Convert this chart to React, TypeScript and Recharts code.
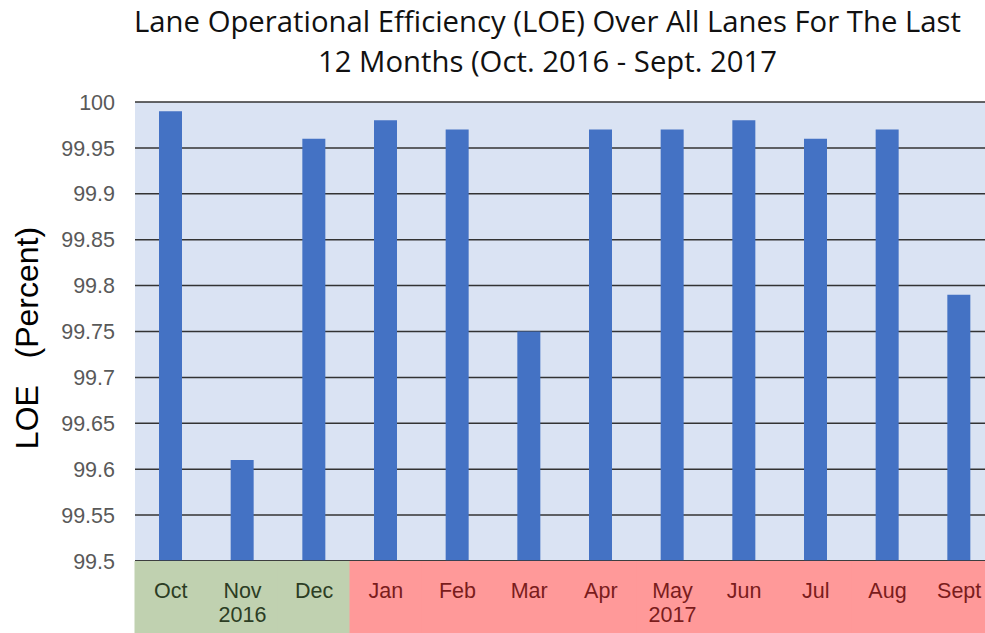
import { BarChart, Bar, XAxis, YAxis, CartesianGrid } from 'recharts'

const months = ['Oct', 'Nov', 'Dec', 'Jan', 'Feb', 'Mar', 'Apr', 'May', 'Jun', 'Jul', 'Aug', 'Sept']
const loe = [99.99, 99.61, 99.96, 99.98, 99.97, 99.75, 99.97, 99.97, 99.98, 99.96, 99.97, 99.79]
const yearUnder: Record<string, string> = { Nov: '2016', May: '2017' }
const yTicks = [99.5, 99.55, 99.6, 99.65, 99.7, 99.75, 99.8, 99.85, 99.9, 99.95, 100]
const year2016 = ['Oct', 'Nov', 'Dec']

const data = months.map((m, i) => ({ month: m, loe: loe[i] }))
const arial = "'Liberation Sans', Arial, sans-serif"

function MonthTick(props: any) {
  const { x, y, payload, width, visibleTicksCount } = props
  const bw = width / visibleTicksCount
  const green = year2016.includes(payload.value)
  const color = green ? '#2c3d24' : '#7a1c1c'
  return (
    <g>
      <rect x={x - bw / 2 - 0.5} y={y} width={bw + 1} height={72} fill={green ? '#c0d1b0' : '#ff9999'} />
      <text x={x} y={y + 37} textAnchor="middle" fontSize={21.5} fill={color} fontFamily={arial}>
        {payload.value}
      </text>
      {yearUnder[payload.value] && (
        <text x={x} y={y + 61} textAnchor="middle" fontSize={21.5} fill={color} fontFamily={arial}>
          {yearUnder[payload.value]}
        </text>
      )}
    </g>
  )
}

function YLabel() {
  return (
    <text transform="translate(38, 338) rotate(-90)" textAnchor="middle" fontSize={32} fill="#000"
      fontFamily={arial} style={{ whiteSpace: 'pre' }}>
      {'LOE   (Percent)'}
    </text>
  )
}

export default function App() {
  return (
    <div style={{ position: 'absolute', left: 0, top: 0, width: 985, height: 633, background: '#fff', overflow: 'hidden' }}>
      <div style={{
        position: 'absolute', left: 0, top: 1, width: 1095, textAlign: 'center',
        fontFamily: "'Open Sans', sans-serif", fontSize: 29.3, lineHeight: '40px', color: '#111'
      }}>
        Lane Operational Efficiency (LOE) Over All Lanes For The Last
        <br />
        12 Months (Oct. 2016 - Sept. 2017
      </div>
      <BarChart width={995} height={633} data={data} margin={{ top: 102, right: 0, left: 0, bottom: 0 }}>
        <CartesianGrid vertical={false} fill="#dae3f3" stroke="#333" strokeWidth={1.5} />
        <XAxis dataKey="month" height={72} tickLine={false} axisLine={{ stroke: '#333', strokeWidth: 1.5 }}
          tick={<MonthTick />} interval={0} tickSize={0} tickMargin={0} />
        <YAxis width={135} domain={[99.5, 100]} ticks={yTicks} tickLine={false} axisLine={false}
          tickSize={0} tickMargin={20} allowDataOverflow
          tick={{ fontSize: 21.5, fill: '#595959', fontFamily: arial }}
          label={{ content: <YLabel /> }} />
        <Bar dataKey="loe" fill="#4472c4" barSize={23} isAnimationActive={false} />
      </BarChart>
    </div>
  )
}
